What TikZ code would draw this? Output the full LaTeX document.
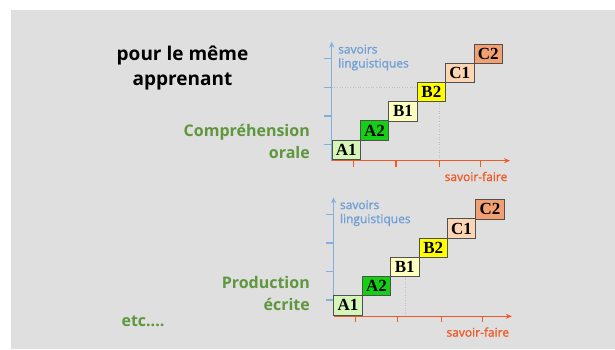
\documentclass[tikz,border=0pt]{standalone}
\usepackage{fontspec}
\setmainfont{Liberation Serif}
\newfontfamily\labelfont{Open Sans}
\newfontfamily\axisfont[FakeBold=1.2]{Open Sans}
\usetikzlibrary{arrows.meta}

\definecolor{slidegray}{HTML}{DFDFDF}
\definecolor{axisblue}{HTML}{7FB0E0}
\definecolor{labelblue}{HTML}{6F9FD6}
\definecolor{axisorange}{HTML}{F05A28}
\definecolor{titlegreen}{HTML}{5E973E}
\definecolor{lvlAone}{HTML}{D6F5B8}
\definecolor{lvlAtwo}{HTML}{14D014}
\definecolor{lvlBone}{HTML}{FFFFC0}
\definecolor{lvlBtwo}{HTML}{FFFF00}
\definecolor{lvlCone}{HTML}{FCD6B4}
\definecolor{lvlCtwo}{HTML}{F2A072}
\definecolor{boxedge}{HTML}{505050}

\tikzset{
  lvlbox/.style={draw=boxedge, line width=0.8pt, minimum width=28.5pt,
    minimum height=19.5pt, inner sep=0pt, font=\fontsize{17}{17}\selectfont\bfseries},
  yaxis/.style={draw=axisblue, line width=1.5pt, -{Stealth[length=6pt,width=5pt]}},
  xaxis/.style={draw=axisorange, line width=1.5pt, -{Stealth[length=6pt,width=5pt]}},
  ytick/.style={draw=axisblue, line width=1.2pt},
  xtick/.style={draw=axisorange, line width=1.2pt},
  gridline/.style={draw=black!25, line width=0.6pt, dotted},
  ylabel/.style={text=labelblue, font=\axisfont\fontsize{12}{14}\selectfont,
    align=left, inner sep=0pt},
  xlabel/.style={text=axisorange, font=\axisfont\fontsize{12}{14}\selectfont, inner sep=0pt},
  skilltext/.style={text=titlegreen, font=\labelfont\bfseries\fontsize{16}{22}\selectfont,
    align=right, inner sep=0pt},
}

% One levels chart; #1 is a suffix for the node names
\newcommand\levelchart[1]{%
  \coordinate (O#1) at (331.7,160.7);
  \coordinate (Ytop#1) at (331.7,41.7);
  \coordinate (Xend#1) at (510,160.7);
  \foreach \tx in {353.3,396,439.3,480.7}
    \draw[xtick] (\tx,160.7) -- (\tx,166.7);
  \foreach \ty in {144.3,116,87.3,58.7}
    \draw[ytick] (331.7,\ty) -- (324,\ty);
  \draw[yaxis] (O#1) -- (Ytop#1);
  \draw[xaxis] (O#1) -- (Xend#1);
  \node[lvlbox, fill=lvlAone] (A1#1) at (346.2,149.7) {A1};
  \node[lvlbox, fill=lvlAtwo] (A2#1) at (374.6,130.5) {A2};
  \node[lvlbox, fill=lvlBone] (B1#1) at (403.0,111.3) {B1};
  \node[lvlbox, fill=lvlBtwo] (B2#1) at (431.4,92.1) {B2};
  \node[lvlbox, fill=lvlCone] (C1#1) at (459.8,72.9) {C1};
  \node[lvlbox, fill=lvlCtwo] (C2#1) at (488.2,53.7) {C2};
  \node[ylabel, anchor=north west] (YL#1) at (338,44.5) {savoirs\\linguistiques};
  \node[xlabel] (XL#1) at (476,176.5) {savoir-faire};
}

\begin{document}
\begin{tikzpicture}[x=1pt, y=-1pt]
  \useasboundingbox (0,0) rectangle (615,349);
  \fill[white] (0,0) rectangle (615,349);
  \fill[slidegray] (11,10) rectangle (615,349);

  % upper chart: listening comprehension
  \coordinate (gA) at (331.7,87.3);
  \draw[gridline] (gA) -- (416.7,87.3);
  \draw[gridline] (439.3,102.7) -- (439.3,160.7);
  \levelchart{t}

  % lower chart: written production
  \begin{scope}[shift={(1.8,155.6)}]
    \draw[gridline] (403.2,121) -- (403.2,160.7);
    \levelchart{b}
  \end{scope}

  \node[font=\labelfont\bfseries\fontsize{19}{25}\selectfont, align=center, inner sep=0pt]
    (title) at (182.5,68) {pour le même\\apprenant};
  \node[skilltext, anchor=north east] (co) at (310,124) {Compréhension\\orale};
  \node[skilltext, anchor=north east] (pe) at (310,276) {Production\\écrite};
  \node[text=titlegreen, font=\labelfont\bfseries\fontsize{16}{20}\selectfont, inner sep=0pt]
    (etc) at (143,321.5) {etc....};
\end{tikzpicture}
\end{document}
